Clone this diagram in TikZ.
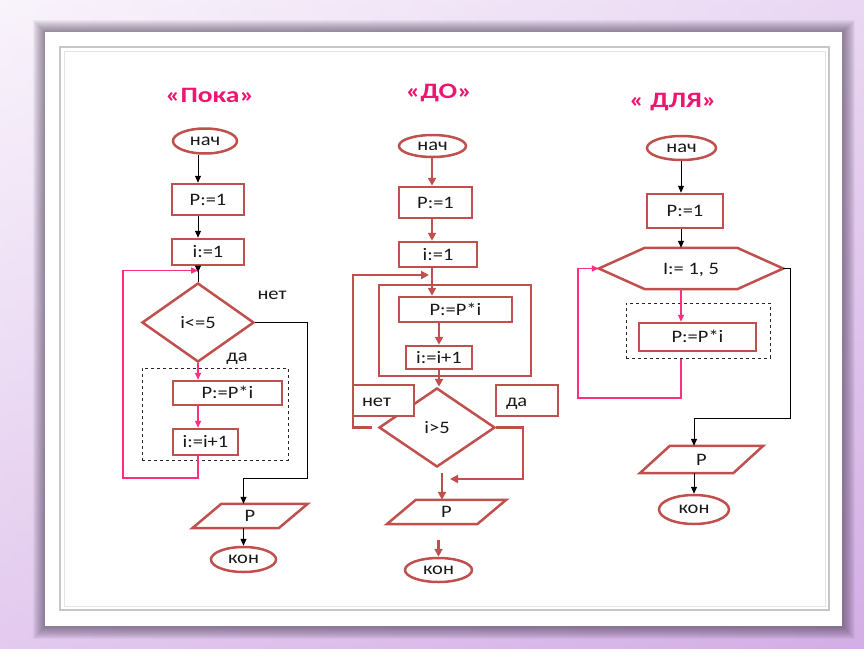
\documentclass[tikz,border=0pt]{standalone}
\usepackage{fontspec}
\setmainfont{Carlito}
\newfontfamily\bodyf[FakeStretch=1.17]{Carlito}
\newfontfamily\titlef[FakeStretch=1.25]{Carlito}
\usetikzlibrary{shapes.geometric,arrows.meta,calc}
\definecolor{boxred}{HTML}{C0504D}
\definecolor{pinkl}{HTML}{FF2E7E}
\definecolor{titlepink}{HTML}{EE1670}
\definecolor{lilac}{HTML}{D4AEE6}
\definecolor{lilacl}{HTML}{F6EEFA}
\definecolor{shadowc}{HTML}{4A3E55}
\begin{document}
\begin{tikzpicture}[x=1pt,y=-1pt,
  every node/.style={font=\bodyf\fontsize{17.5}{20}\selectfont, text=black!90, inner sep=0pt, text height=11pt, text depth=0pt},
  blk/.style={draw=boxred, line width=2.5pt, rectangle},
  term/.style={draw=boxred, line width=2.5pt, ellipse, text height=8pt},
  dia/.style={draw=boxred, line width=2.5pt, diamond},
  ttl/.style={font=\titlef\bfseries\fontsize{22}{26}\selectfont, text=titlepink, text height=14pt},
  shp/.style={draw=boxred, line width=2.5pt},
  blkarr/.style={draw=black, line width=1pt, -{Triangle[length=7pt,width=6pt]}},
  blkln/.style={draw=black, line width=1pt},
  pinkarr/.style={draw=pinkl, line width=1.4pt, -{Triangle[length=7pt,width=6pt]}},
  redarr/.style={draw=boxred, line width=2.2pt, -{Triangle[length=8pt,width=8pt]}},
  dashbox/.style={draw=black!85, line width=1pt, dashed}
]
\useasboundingbox (0,0) rectangle (864,648);
% background
\shade[top color=lilacl, bottom color=lilac] (0,0) rectangle (864,648);
\shade[left color=white, right color=lilac, opacity=0.35] (0,0) rectangle (864,648);
% shadow
\foreach \i in {12,11,...,1}{
  \fill[shadowc, opacity=0.06] (45-\i, 32-\i) rectangle (842+\i+1, 626+\i+1);
}
% panel
\fill[white] (45,32) rectangle (842,626);
\draw[black!22, line width=2pt] (60,47) rectangle (829,610);
\draw[black!10, line width=1pt] (64,51) rectangle (825,606);

% titles
\node[ttl] (t1) at (210,95) {«Пока»};
\node[ttl] (t2) at (439,91) {«ДО»};
\node[ttl] (t3) at (673,100) {« ДЛЯ»};

% ===== column 1 =====
\node[term, minimum width=64pt, minimum height=25pt] (n1) at (205,141) {нач};
\node[blk, minimum width=72pt, minimum height=31pt] (a1) at (208,199.5) {P:=1};
\node[blk, minimum width=72pt, minimum height=26pt] (b1) at (208,252) {i:=1};
\node[dia, minimum width=112pt, minimum height=79pt, aspect=1.42] (d1) at (198,322.5) {i<=5};
\node[dashbox, minimum width=146pt, minimum height=92pt] (g1) at (215,414) {};
\node[blk, minimum width=109pt, minimum height=24pt] (c1) at (227.5,393) {P:=P*i};
\node[blk, minimum width=65pt, minimum height=26pt] (e1) at (205.5,442) {i:=i+1};
\node[minimum width=86pt, minimum height=24pt] (p1) at (250,516) {P};
\draw[shp] ($(p1.north west)+(14.5,0)$) -- ($(p1.north east)+(14.5,0)$) -- ($(p1.south east)+(-14.5,0)$) -- ($(p1.south west)+(-14.5,0)$) -- cycle;
\node[term, minimum width=65pt, minimum height=25pt] (k1) at (243.5,559.5) {кон};
\node (l1no) at (272,294) {нет};
\node (l1yes) at (237,356) {да};

\coordinate (j1) at (198,270.5);
\coordinate (q1) at (307,478);
\coordinate (q1b) at (123,478);
\draw[blkarr] (n1.south -| j1) -- (a1.north -| j1);
\draw[blkarr] (a1.south -| j1) -- (b1.north -| j1);
\draw[blkarr] (b1.south -| j1) -- ($(j1)+(0,2)$);
\draw[blkln] (j1) -- (d1.north);
\draw[blkarr] (d1.east) -| (q1) -- (q1 -| k1) -- (k1 |- p1.north);
\draw[blkarr] (p1.south -| k1) -- (k1.north);
\draw[pinkarr] (d1.south) -- (d1.south |- c1.north);
\draw[pinkarr] (c1.south -| j1) -- (e1.north -| j1);
\draw[pinkarr] (e1.south -| j1) -- (j1 |- q1b) -- (q1b) -- (q1b |- j1) -- (j1);

% ===== column 2 =====
\node[term, minimum width=67pt, minimum height=22pt] (n2) at (432.5,146) {нач};
\node[blk, minimum width=73pt, minimum height=31pt] (a2) at (435.5,202.5) {P:=1};
\node[blk, minimum width=78pt, minimum height=25pt] (b2) at (438,254.5) {i:=1};
\node[blk, minimum width=152pt, minimum height=91pt] (r2) at (455,330.5) {};
\node[blk, minimum width=113pt, minimum height=25pt] (c2) at (455.5,309.5) {P:=P*i};
\node[blk, minimum width=66pt, minimum height=23pt] (e2) at (439,357.5) {i:=i+1};
\node[dia, minimum width=116pt, minimum height=79pt, aspect=1.47] (d2) at (437,427.5) {i>5};
\node[minimum width=90pt, minimum height=24pt] (p2) at (446.5,512) {P};
\draw[shp] ($(p2.north west)+(14.5,0)$) -- ($(p2.north east)+(14.5,0)$) -- ($(p2.south east)+(-14.5,0)$) -- ($(p2.south west)+(-14.5,0)$) -- cycle;
\node[term, minimum width=67pt, minimum height=24pt] (k2) at (438.5,570) {кон};

\coordinate (j2) at (432,275);
\coordinate (o2) at (353,275);
\coordinate (y2) at (523,479);
\coordinate (m2) at (450,479);
\coordinate (s2) at (442,473);
\coordinate (s2b) at (438.5,540);
\draw[redarr] (n2.south -| j2) -- (a2.north -| j2);
\draw[redarr] (a2.south -| j2) -- (b2.north -| j2);
\draw[redarr] (b2.south -| j2) -- (c2.north -| j2);
\draw[redarr] (c2.south -| e2) -- (e2.north);
\draw[redarr] (e2.south) -- (d2.north -| e2);
\draw[redarr] ($(d2.west)+(-6,0)$) -| (o2) -- ($(j2)+(-3,0)$);
\draw[redarr] (d2.east) -| (y2) -- (m2);
\draw[redarr] (s2) -- (s2 |- p2.north);
\draw[redarr] (s2b) -- (k2.north);
\node[blk, fill=white, minimum width=61pt, minimum height=31pt, text width=43pt, align=left] (no2) at (383.5,400.5) {нет};
\node[blk, fill=white, minimum width=62pt, minimum height=31pt, text width=42pt, align=left] (yes2) at (527,400.5) {да};

% ===== column 3 =====
\node[term, minimum width=69pt, minimum height=24pt] (n3) at (681.5,148) {нач};
\node[blk, minimum width=76pt, minimum height=34pt] (a3) at (685,211) {P:=1};
\node[minimum width=184pt, minimum height=41pt] (h3) at (691,268.5) {I:= 1, 5};
\draw[shp] (h3.west) -- ($(h3.north west)+(46,0)$) -- ($(h3.north east)+(-46,0)$) -- (h3.east) -- ($(h3.south east)+(-46,0)$) -- ($(h3.south west)+(46,0)$) -- cycle;
\node[dashbox, minimum width=144pt, minimum height=55pt] (g3) at (698,330.5) {};
\node[blk, minimum width=117pt, minimum height=28pt] (c3) at (697.5,337) {P:=P*i};
\node[minimum width=93pt, minimum height=27pt] (p3) at (701.5,459.5) {P};
\draw[shp] ($(p3.north west)+(15,0)$) -- ($(p3.north east)+(15,0)$) -- ($(p3.south east)+(-15,0)$) -- ($(p3.south west)+(-15,0)$) -- cycle;
\node[term, minimum width=70pt, minimum height=29pt] (k3) at (694,509.5) {кон};

\coordinate (x3) at (681,270);
\coordinate (r3) at (790,418);
\coordinate (l3) at (578,398);
\draw[blkarr] (n3.south -| x3) -- (a3.north -| x3);
\draw[blkarr] (a3.south -| x3) -- (h3.north -| x3);
\draw[blkarr] (h3.east) -| (r3) -- (r3 -| k3) -- (k3 |- p3.north);
\draw[blkarr] (p3.south -| k3) -- (k3.north);
\draw[pinkarr] (h3.south -| x3) -- (c3.north -| x3);
\draw[pinkarr] (g3.south -| x3) -- (x3 |- l3) -- (l3) |- (h3.west);
\end{tikzpicture}
\end{document}
